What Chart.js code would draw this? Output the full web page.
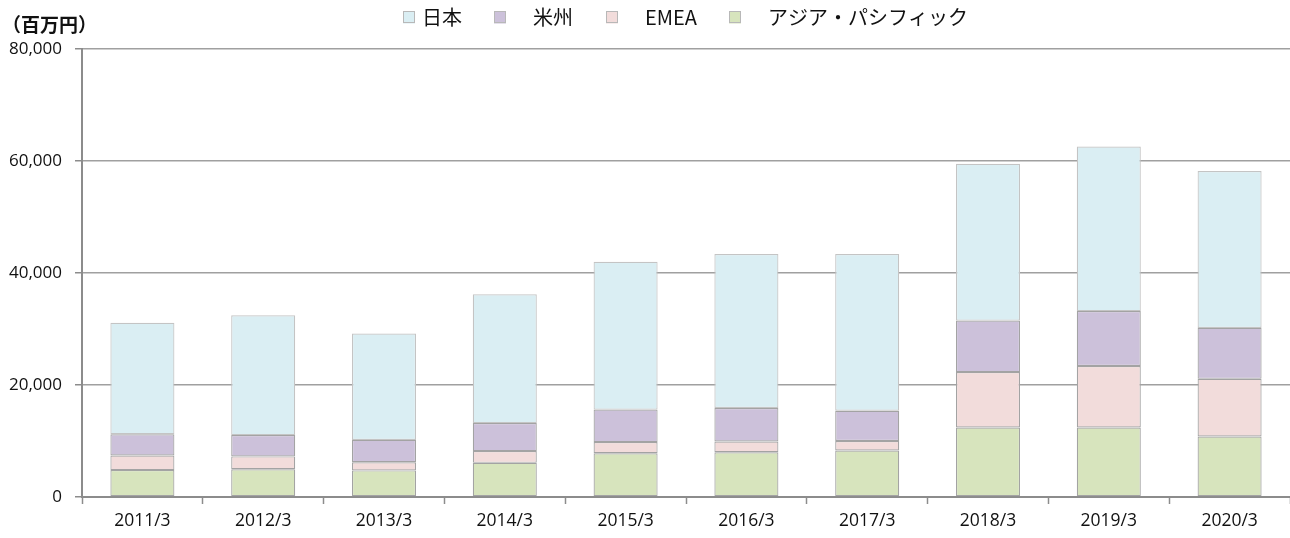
<!DOCTYPE html>
<html>
<head>
<meta charset="utf-8">
<script src="https://cdn.jsdelivr.net/npm/chart.js@4"></script>
<style>
html,body{margin:0;padding:0;background:#fff;}
#wrap{width:1290px;height:538px;position:relative;}
</style>
</head>
<body>
<div id="wrap"><canvas id="c" width="1290" height="538"></canvas></div>
<script>
// categories (fiscal years)
const categories = ['2011/3','2012/3','2013/3','2014/3','2015/3','2016/3','2017/3','2018/3','2019/3','2020/3'];
// series values (millions of yen)
const asiaPacific = [4800, 4950, 4750, 6100, 7800, 8000, 8300, 12400, 12400, 10800];
const emea        = [2600, 2300, 1450, 2100, 2000, 1900, 1700, 9900, 11000, 10300];
const americas    = [3800, 3800, 4000, 5000, 5800, 6000, 5400, 9200, 9800, 9100];
const japan       = [19900, 21400, 19000, 23000, 26400, 27500, 28000, 28000, 29400, 28000];
// labels
const seriesNames = ['アジア・パシフィック', 'EMEA', '米州', '日本'];
const unitLabel = '（百万円）';
const yTicks = [0, 20000, 40000, 60000, 80000];

const fills = ['#D7E4BD', '#F2DCDB', '#CCC1DA', '#DAEEF3'];
const borders = ['#A3A3A3', '#A3A3A3', '#A3A3A3', '#C4C4C4'];
const seriesData = [asiaPacific, emea, americas, japan];

const datasets = seriesData.map((d, i) => ({
  label: seriesNames[i],
  data: d,
  backgroundColor: fills[i],
  borderColor: borders[i],
  borderWidth: 1.2,
  borderSkipped: false,
  barPercentage: 0.53,
  categoryPercentage: 1.0
}));

const cjk = '"Noto Sans CJK JP", "Noto Sans", sans-serif';
const latin = '"Open Sans", "Noto Sans", sans-serif';

const legendPlugin = {
  id: 'customLegend',
  afterDraw(chart) {
    const ctx = chart.ctx;
    const order = [3, 2, 1, 0];
    const boxX = [403, 494, 606, 729];
    const textX = [422, 533, 645, 768];
    ctx.save();
    ctx.font = '20px ' + cjk;
    ctx.textBaseline = 'middle';
    order.forEach((di, k) => {
      const ds = chart.data.datasets[di];
      ctx.fillStyle = ds.backgroundColor;
      ctx.fillRect(boxX[k], 11.5, 12, 12);
      ctx.strokeStyle = '#B8B8B8';
      ctx.lineWidth = 1;
      ctx.strokeRect(boxX[k] + 0.5, 11.5, 11, 11);
      ctx.fillStyle = '#111';
      ctx.fillText(ds.label, textX[k], 17);
    });
    ctx.font = 'bold 19px ' + cjk;
    ctx.fillText(unitLabel, 2, 25);
    ctx.restore();
  }
};

new Chart(document.getElementById('c'), {
  type: 'bar',
  data: { labels: categories, datasets },
  options: {
    responsive: false,
    animation: false,
    layout: { padding: { top: 49, left: 0, right: 0, bottom: 0 } },
    plugins: { legend: { display: false }, tooltip: { enabled: false } },
    scales: {
      x: {
        stacked: true,
        offset: true,
        grid: { display: true, drawOnChartArea: false, drawTicks: true, tickLength: 7, tickColor: '#8C8C8C', tickWidth: 1.5, offset: true },
        border: { display: true, color: '#8C8C8C', width: 2 },
        ticks: { color: '#111', font: { family: latin, size: 17.5 }, padding: 7, maxRotation: 0 },
        afterFit(scale) { scale.height = 41; }
      },
      y: {
        stacked: true,
        min: 0,
        max: 80000,
        afterBuildTicks(scale) { scale.ticks = yTicks.map(v => ({ value: v })); },
        grid: { color: '#A0A0A0', lineWidth: 1.5, tickLength: 7, tickColor: '#8C8C8C', drawTicks: true },
        border: { display: true, color: '#8C8C8C', width: 2 },
        ticks: {
          color: '#111',
          font: { family: latin, size: 17 },
          padding: 13,
          callback: v => v.toLocaleString('en-US')
        },
        afterFit(scale) { scale.width = 82; }
      }
    }
  },
  plugins: [legendPlugin]
});
</script>
</body>
</html>
